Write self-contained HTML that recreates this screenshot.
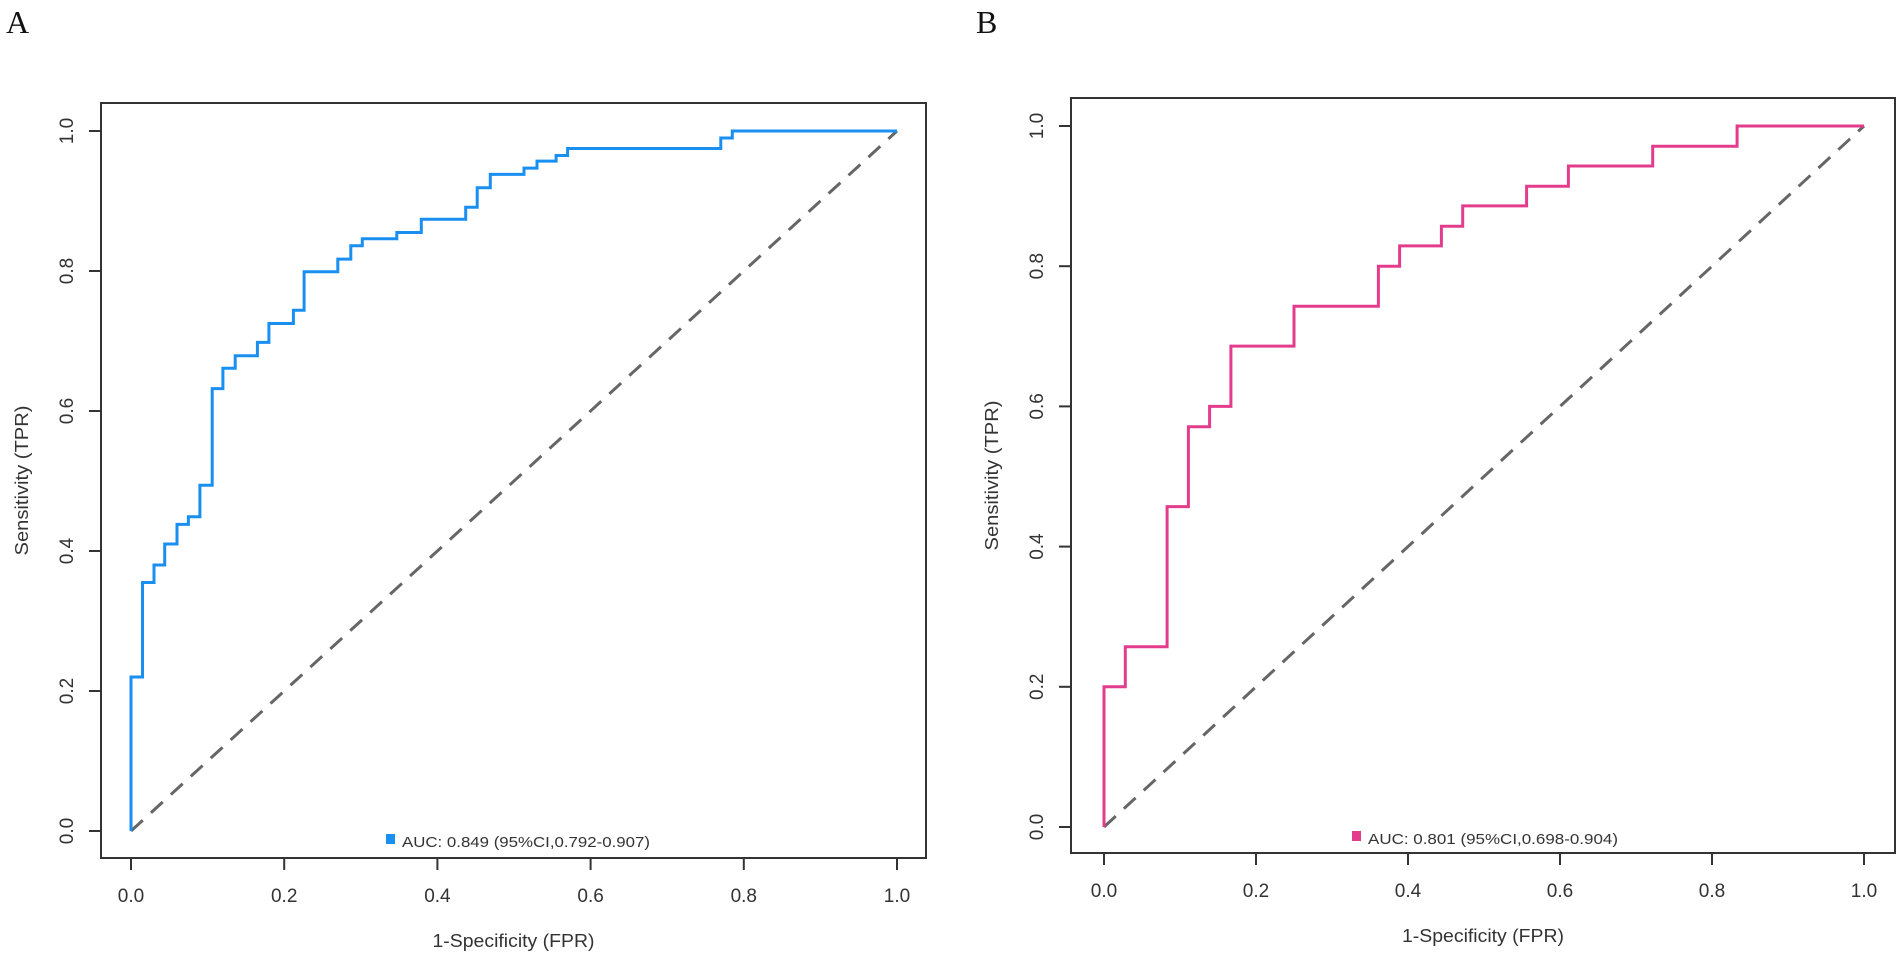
<!DOCTYPE html>
<html><head><meta charset="utf-8"><style>
html,body{margin:0;padding:0;background:#fff;}
svg{display:block;font-family:"Liberation Sans",Arial,sans-serif;}
</style></head><body>
<svg id="fig" width="1902" height="959" viewBox="0 0 1902 959" xmlns="http://www.w3.org/2000/svg">
<text x="6" y="33" font-family="Liberation Serif,serif" font-size="32" fill="#111">A</text>
<text x="976" y="33" font-family="Liberation Serif,serif" font-size="32" fill="#111">B</text>
</svg>
<script>
// Panel A data
const fprA = [0,0,0.015,0.015,0.03,0.03,0.044,0.044,0.06,0.06,0.075,0.075,0.09,0.09,0.106,0.106,0.12,0.12,0.136,0.136,0.165,0.165,0.18,0.18,0.212,0.212,0.226,0.226,0.27,0.27,0.287,0.287,0.302,0.302,0.347,0.347,0.379,0.379,0.437,0.437,0.452,0.452,0.469,0.469,0.513,0.513,0.53,0.53,0.555,0.555,0.57,0.57,0.77,0.77,0.785,0.785,1.0];
const tprA = [0,0.22,0.22,0.355,0.355,0.38,0.38,0.41,0.41,0.438,0.438,0.449,0.449,0.494,0.494,0.632,0.632,0.661,0.661,0.679,0.679,0.698,0.698,0.725,0.725,0.744,0.744,0.799,0.799,0.817,0.817,0.836,0.836,0.846,0.846,0.855,0.855,0.874,0.874,0.891,0.891,0.919,0.919,0.938,0.938,0.947,0.947,0.957,0.957,0.965,0.965,0.975,0.975,0.99,0.99,1.0,1.0];
// Panel B data
const fprB = [0,0,0.028,0.028,0.083,0.083,0.111,0.111,0.139,0.139,0.167,0.167,0.25,0.25,0.361,0.361,0.389,0.389,0.444,0.444,0.472,0.472,0.556,0.556,0.611,0.611,0.722,0.722,0.833,0.833,1.0];
const tprB = [0,0.2,0.2,0.257,0.257,0.457,0.457,0.571,0.571,0.6,0.6,0.686,0.686,0.743,0.743,0.8,0.8,0.829,0.829,0.857,0.857,0.886,0.886,0.914,0.914,0.943,0.943,0.971,0.971,1.0,1.0];
const tickVals = [0,0.2,0.4,0.6,0.8,1.0];
const tickLabels = ["0.0","0.2","0.4","0.6","0.8","1.0"];
const legendA = "AUC: 0.849 (95%CI,0.792-0.907)";
const legendB = "AUC: 0.801 (95%CI,0.698-0.904)";

const NS="http://www.w3.org/2000/svg";
const svg=document.getElementById('fig');
function mk(tag,attrs,parent){const e=document.createElementNS(NS,tag);for(const k in attrs)e.setAttribute(k,attrs[k]);(parent||svg).appendChild(e);return e;}

function panel(p){
  const g=mk('g',{});
  
  
  const sx=v=>p.x0+v*p.ux, sy=v=>p.y0-v*p.uy;
  const box=mk('rect',{x:p.L,y:p.T,width:p.R-p.L,height:p.B-p.T,fill:'none',stroke:'#333','stroke-width':2},g);
  
  
  tickVals.forEach((v,i)=>{
    const tx=mk('line',{x1:sx(v),x2:sx(v),y1:p.B,y2:p.B+12,stroke:'#333','stroke-width':2},g);
    
    
    const lx=mk('text',{x:sx(v),y:p.B+44,'text-anchor':'middle','font-size':19,fill:'#333'},g);
    lx.textContent=tickLabels[i];
    
    
    const ty=mk('line',{x1:p.L-12,x2:p.L,y1:sy(v),y2:sy(v),stroke:'#333','stroke-width':2},g);
    
    
    const ly=mk('text',{x:0,y:0,'text-anchor':'middle','font-size':19,fill:'#333',transform:`translate(${p.L-28},${sy(v)}) rotate(-90)`},g);
    ly.textContent=tickLabels[i];
    
    
  });
  const diag=mk('line',{x1:sx(0),y1:sy(0),x2:sx(1),y2:sy(1),stroke:'#666','stroke-width':3,'stroke-dasharray':'16 11'},g);
  
  
  const pts=p.fpr.map((f,i)=>sx(f).toFixed(1)+','+sy(p.tpr[i]).toFixed(1)).join(' ');
  const curve=mk('polyline',{points:pts,fill:'none',stroke:p.color,'stroke-width':3,'stroke-linejoin':'miter'},g);
  
  
  const sq=mk('rect',{x:p.legX,y:p.legY-13,width:9,height:10,fill:p.color},g);
  
  
  const lt=mk('text',{x:p.legX+16,y:p.legY,'font-size':15,fill:'#333',textLength:p.legW,lengthAdjust:'spacingAndGlyphs'},g);
  lt.textContent=p.legend;
  
  
  const xt=mk('text',{x:(p.L+p.R)/2,y:p.xtY,'text-anchor':'middle','font-size':18,fill:'#333',textLength:162,lengthAdjust:'spacingAndGlyphs'},g);
  xt.textContent='1-Specificity (FPR)';
  
  
  const yt=mk('text',{x:0,y:0,'text-anchor':'middle','font-size':18,fill:'#333',textLength:150,lengthAdjust:'spacingAndGlyphs',transform:`translate(${p.ytX},${(p.T+p.B)/2}) rotate(-90)`},g);
  yt.textContent='Sensitivity (TPR)';
  
  
}
panel({id:'a',L:101,R:926,T:103,B:858,x0:131,ux:766,y0:831,uy:700,fpr:fprA,tpr:tprA,color:'#1a8ff2',legend:legendA,legX:386,legY:847,legW:248,xtY:947,ytX:28});
panel({id:'b',L:1071,R:1895,T:98,B:853,x0:1104,ux:760,y0:827,uy:701,fpr:fprB,tpr:tprB,color:'#e33c8c',legend:legendB,legX:1352,legY:844,legW:250,xtY:942,ytX:998});
</script>
</body></html>
